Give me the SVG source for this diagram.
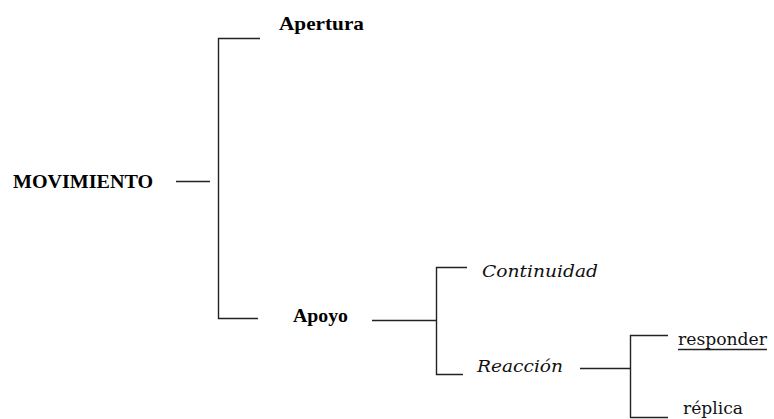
<svg xmlns="http://www.w3.org/2000/svg" width="774" height="419" viewBox="0 0 774 419">
  <style>
    .bold { font-family: "Liberation Serif", "Times New Roman", serif; font-weight: bold; font-size: 19px; fill: #000; }
    .ital { font-family: "DejaVu Serif", serif; font-style: italic; font-size: 17px; fill: #111; }
    .slab { font-family: "DejaVu Serif", serif; font-size: 16px; fill: #111; }
    .conn { fill: none; stroke: #222; stroke-width: 1.4; }
  </style>
  <rect width="774" height="419" fill="#fff"/>

  <!-- connectors: brackets and joining strokes -->
  <g id="connectors">
    <path class="conn" d="M176 181.5 H210"/>
    <path class="conn" d="M260 38.5 H218.5 V318.5 H258"/>
    <path class="conn" d="M372 320.5 H436.5"/>
    <path class="conn" d="M467 267.5 H436.5 V374.5 H463"/>
    <path class="conn" d="M580 368.5 H630.5"/>
    <path class="conn" d="M668 335.5 H630.5 V417.5 H668"/>
  </g>

  <g id="movimiento">
    <text class="bold" x="13" y="188" textLength="140" lengthAdjust="spacingAndGlyphs">MOVIMIENTO</text>
  </g>
  <g id="apertura">
    <text class="bold" x="279" y="30" textLength="85" lengthAdjust="spacingAndGlyphs">Apertura</text>
  </g>
  <g id="apoyo">
    <text class="bold" x="293" y="322" textLength="55" lengthAdjust="spacingAndGlyphs">Apoyo</text>
  </g>
  <g id="continuidad">
    <text class="ital" x="482" y="277" textLength="116" lengthAdjust="spacingAndGlyphs">Continuidad</text>
  </g>
  <g id="reaccion">
    <text class="ital" x="477" y="372" textLength="86" lengthAdjust="spacingAndGlyphs">Reacción</text>
  </g>
  <g id="responder">
    <text class="slab" x="678" y="345" textLength="89" lengthAdjust="spacingAndGlyphs">responder</text>
    <path class="conn" d="M678 349.5 H767" stroke-width="1.2"/>
  </g>
  <g id="replica">
    <text class="slab" x="683" y="414" textLength="60" lengthAdjust="spacingAndGlyphs">réplica</text>
  </g>
</svg>
